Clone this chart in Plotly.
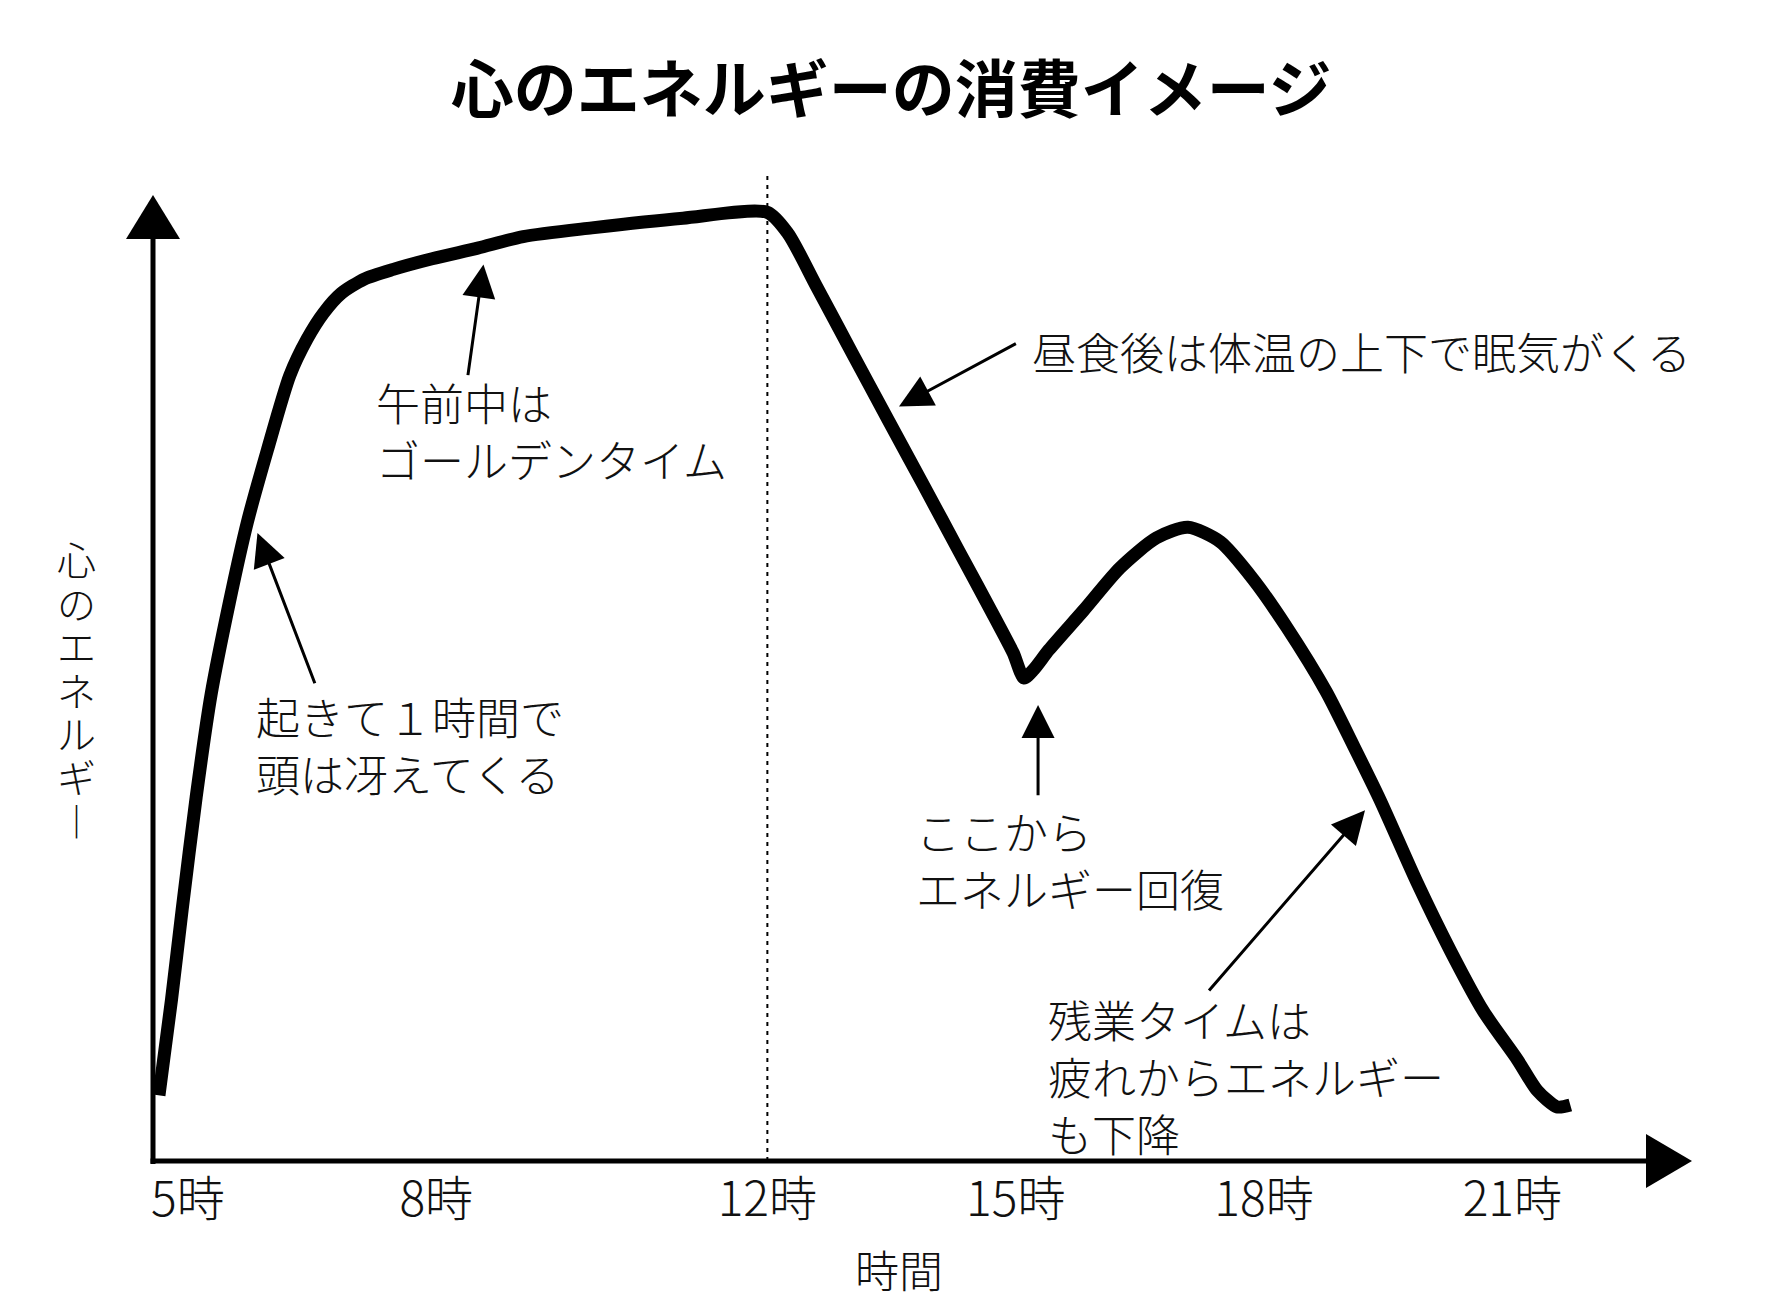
import plotly.graph_objects as go

# ---- data -------------------------------------------------------------
# time of day (hours) and "energy of the mind" (0-100)
hours = [4.65, 4.80, 4.93, 5.10, 5.28, 5.50, 5.72, 5.96, 6.23, 6.44,
         6.64, 6.85, 7.13, 7.48, 7.95, 8.50, 9.05, 9.88, 10.98, 12.0,
         12.25, 12.59, 13.02, 13.46, 13.89, 14.31, 14.75, 14.97, 15.10, 15.22,
         15.40, 15.82, 16.26, 16.70, 17.08, 17.47, 17.87, 18.27, 18.75,
         19.08, 19.40, 19.85, 20.25, 20.65, 21.06, 21.30, 21.54, 21.70]
energy = [6.8, 16.6, 26.0, 37.7, 48.3, 57.8, 66.2, 73.6, 81.3, 85.1,
          87.8, 89.8, 91.3, 92.3, 93.4, 94.5, 95.7, 96.6, 97.6, 98.2,
          96.0, 90.6, 83.7, 76.7, 69.9, 63.2, 56.2, 52.6, 50.0, 50.9,
          52.9, 57.0, 61.4, 64.5, 65.6, 64.1, 60.2, 55.3, 48.6,
          43.0, 37.4, 28.8, 21.8, 15.5, 10.5, 7.3, 5.6, 5.8]

tick_hours = [5, 8, 12, 15, 18, 21]
tick_labels = ["5時", "8時", "12時", "15時", "18時", "21時"]

title_text = "心のエネルギーの消費イメージ"
x_title = "時間"
y_title_chars = ["心", "の", "エ", "ネ", "ル", "ギ", "︱"]  # written top to bottom
noon = 12

# callouts: text, text anchor (hour, energy), arrow tip, arrow tail
notes = [
    ("起きて１時間で<br>頭は冴えてくる", (5.80, 43.1), (5.84, 65.0), (6.54, 49.3)),
    ("午前中は<br>ゴールデンタイム", (7.25, 75.6), (8.57, 92.8), (8.38, 81.2)),
    ("昼食後は体温の上下で眠気がくる", (15.17, 83.9), (13.59, 78.1), (15.02, 84.7)),
    ("ここから<br>エネルギー回復", (13.77, 31.2), (15.27, 47.2), (15.27, 37.7)),
    ("残業タイムは<br>疲れからエネルギー<br>も下降", (15.36, 8.8), (19.22, 36.3), (17.32, 17.5)),
]

x_range = [4.578, 23.17]
y_range = [0, 100]

FONT = "Noto Sans CJK JP"

fig = go.Figure()

fig.add_trace(go.Scatter(
    x=hours, y=energy, mode="lines",
    line=dict(color="black", width=13, shape="spline", smoothing=0.7),
    cliponaxis=False, showlegend=False, hoverinfo="skip",
))

# axes drawn by hand (line + big triangle heads)
fig.add_shape(type="line", xref="paper", yref="paper", x0=0, x1=0, y0=-0.003, y1=0.96,
              line=dict(color="black", width=5))
fig.add_shape(type="line", xref="paper", yref="paper", x0=-0.0016, x1=0.975, y0=0, y1=0,
              line=dict(color="black", width=5))
fig.add_shape(type="path", xref="paper", yref="paper", xsizemode="pixel", ysizemode="pixel",
              xanchor=0, yanchor=1, path="M -27,-44 L 27,-44 L 0,0 Z",
              fillcolor="black", line=dict(width=0))
fig.add_shape(type="path", xref="paper", yref="paper", xsizemode="pixel", ysizemode="pixel",
              xanchor=1, yanchor=0, path="M 0,0 L -46,27 L -46,-27 Z",
              fillcolor="black", line=dict(width=0))

# dashed line at noon
fig.add_shape(type="line", xref="x", yref="paper", x0=noon, x1=noon, y0=0, y1=1.023,
              line=dict(color="black", width=2, dash="4px,5px"))

for text, (tx, ty), (hx, hy), (sx, sy) in notes:
    fig.add_annotation(x=tx, y=ty, xref="x", yref="y", text=text, showarrow=False,
                       xanchor="left", yanchor="middle", align="left",
                       font=dict(family=FONT, size=44, color="#111111", weight=300))
    fig.add_annotation(x=hx, y=hy, ax=sx, ay=sy, xref="x", yref="y", axref="x", ayref="y",
                       text="", showarrow=True, arrowhead=2, arrowsize=2.2, arrowwidth=3,
                       arrowcolor="black", standoff=0)

# vertical y-axis title, one character per row
for i, ch in enumerate(y_title_chars):
    fig.add_annotation(x=-0.0494, y=0.624 - 0.045 * i, xref="paper", yref="paper",
                       text=ch, showarrow=False, xanchor="center", yanchor="middle",
                       height=42, valign="middle", borderpad=0,
                       font=dict(family=FONT, size=39, color="#111111", weight=300))

fig.add_annotation(x=0.4847, y=-0.1118, xref="paper", yref="paper", text=x_title,
                   showarrow=False, xanchor="center", yanchor="middle",
                   font=dict(family=FONT, size=44, color="#111111", weight=300))

fig.update_layout(
    width=1776, height=1292, autosize=False,
    margin=dict(l=145, r=92, t=187, b=139),
    plot_bgcolor="white", paper_bgcolor="white",
    title=dict(text=title_text, x=0.4972, y=0.9365, xref="container", yref="container",
               xanchor="center", yanchor="middle",
               font=dict(family=FONT, size=63, color="black", weight="bold")),
    xaxis=dict(range=x_range, showgrid=False, zeroline=False, showline=False,
               tickvals=tick_hours, ticktext=tick_labels, ticks="",
               ticklabelstandoff=6,
               tickfont=dict(family=FONT, size=48, color="#111111", weight=300)),
    yaxis=dict(range=y_range, showgrid=False, zeroline=False, showline=False,
               showticklabels=False, ticks=""),
)

fig.write_html("out.html")
